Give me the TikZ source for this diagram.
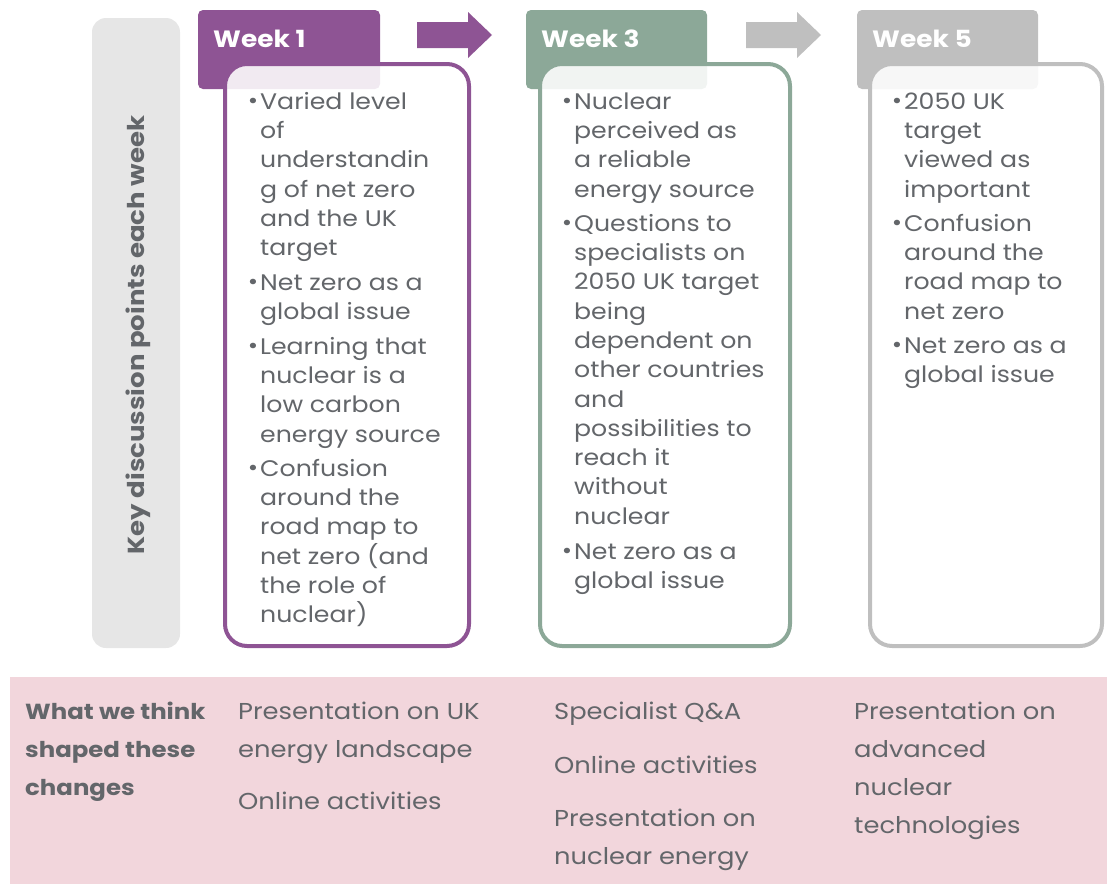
\documentclass[tikz,border=0pt]{standalone}
\usepackage{fontspec}
\setmainfont{Poppins}[FakeStretch=1.12]
\definecolor{wkpurple}{HTML}{8E5494}
\definecolor{wkgreen}{HTML}{8CA898}
\definecolor{wkgray}{HTML}{BFBFBF}
\definecolor{barfill}{HTML}{E6E6E6}
\definecolor{pinkband}{HTML}{F2D6DC}
\definecolor{txtgray}{HTML}{63666A}
\begin{document}
\begin{tikzpicture}[x=1pt,y=-1pt,
  tab/.style={rounded corners=5pt},
  weekbox/.style={rounded corners=22pt, line width=4pt, fill=white, fill opacity=0.88, draw opacity=1, text opacity=1},
  weeklabel/.style={anchor=base west, inner sep=0pt, text=white, font=\fontsize{23.6}{28}\selectfont\bfseries},
  bul/.style={anchor=north west, inner sep=0pt, align=left, text=txtgray, font=\fontsize{22.5}{29.3}\selectfont},
  band/.style={anchor=north west, inner sep=0pt, align=left, text=txtgray, font=\fontsize{23}{38}\selectfont},
  bandhead/.style={band, font=\fontsize{21.8}{38}\selectfont\bfseries}
]
\useasboundingbox (0,0) rectangle (1111,884);
\newcommand{\bl}{\strut\llap{\raisebox{0.5pt}{•}\hspace{2pt}}}

% left label bar
\fill[barfill, rounded corners=14pt] (92,18) rectangle (180,648);
\node[rotate=90, inner sep=0pt, text=txtgray, font=\fontsize{23.2}{28}\selectfont\bfseries] (keylabel) at (138,335) {Key discussion points each week};

% pink band
\fill[pinkband] (10,677) rectangle (1107,884);

% arrows
\fill[wkpurple] (417,22) -- (468,22) -- (468,12) -- (492,35) -- (468,58) -- (468,48) -- (417,48) -- cycle;
\fill[wkgray] (746,22) -- (797,22) -- (797,12) -- (821,35) -- (797,58) -- (797,48) -- (746,48) -- cycle;

% week 1
\fill[wkpurple, tab] (198,10) rectangle (380,89);
\draw[wkpurple, weekbox] (225,64) rectangle (469,646);
\node[weeklabel] (w1) at (213,47) {Week 1};
\node[bul] (w1a) at (260,88.5) {\bl Varied level\\of\\understandin\\g of net zero\\and the UK\\target};
\node[bul] (w1b) at (260,269.5) {\bl Net zero as a\\global issue};
\node[bul] (w1c) at (260,333.5) {\bl Learning that\\nuclear is a\\low carbon\\energy source};
\node[bul] (w1d) at (260,455.5) {\bl Confusion\\around the\\road map to\\net zero (and\\the role of\\nuclear)};

% week 3
\fill[wkgreen, tab] (526,10) rectangle (707,89);
\draw[wkgreen, weekbox] (540,64) rectangle (790,646);
\node[weeklabel] (w3) at (541,47) {Week 3};
\node[bul] (w3a) at (574,88.5) {\bl Nuclear\\perceived as\\a reliable\\energy source};
\node[bul] (w3b) at (574,210.5) {\bl Questions to\\specialists on\\2050 UK target\\being\\dependent on\\other countries\\and\\possibilities to\\reach it\\without\\nuclear};
\node[bul] (w3c) at (574,538.5) {\bl Net zero as a\\global issue};

% week 5
\fill[wkgray, tab] (857,10) rectangle (1038,89);
\draw[wkgray, weekbox] (870,64) rectangle (1102,646);
\node[weeklabel] (w5) at (872,47) {Week 5};
\node[bul] (w5a) at (904,88.5) {\bl 2050 UK\\target\\viewed as\\important};
\node[bul] (w5b) at (904,210.5) {\bl Confusion\\around the\\road map to\\net zero};
\node[bul] (w5c) at (904,332.5) {\bl Net zero as a\\global issue};

% bottom band texts
\node[bandhead] (shaped) at (25,692.4) {\strut What we think\\shaped these\\changes};
\node[band] (c1a) at (238,692.4) {\strut Presentation on UK\\energy landscape};
\node[band] (c1b) at (238,782.4) {\strut Online activities};
\node[band] (c2a) at (554,692.4) {\strut Specialist Q\&A};
\node[band] (c2b) at (554,746.4) {\strut Online activities};
\node[band] (c2c) at (554,799.4) {\strut Presentation on\\nuclear energy};
\node[band] (c3a) at (854,692.4) {\strut Presentation on\\advanced\\nuclear\\technologies};
\end{tikzpicture}
\end{document}
